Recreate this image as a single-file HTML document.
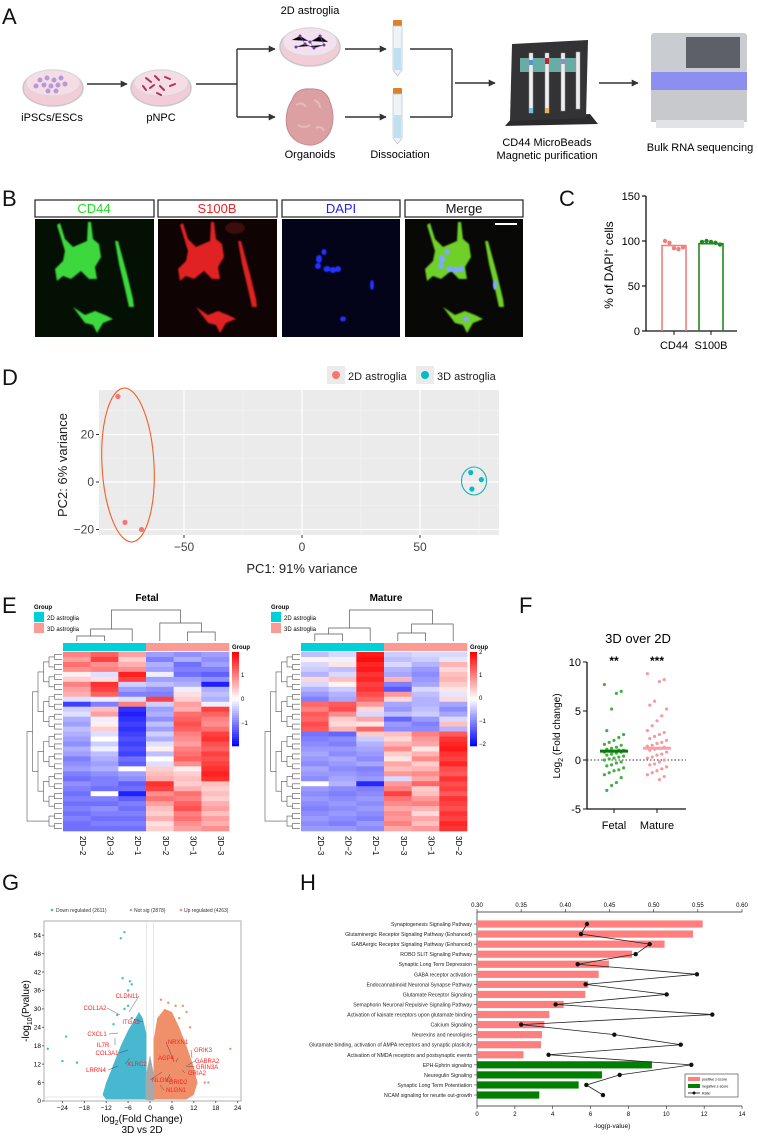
<!DOCTYPE html>
<html><head><meta charset="utf-8">
<style>
html,body{margin:0;padding:0;background:#fff;}
svg{display:block;font-family:"Liberation Sans",Arial,sans-serif;}
.pl{font-size:22px;fill:#111;}
.n{font-family:"Liberation Sans Narrow","Liberation Sans",sans-serif;}
</style></head>
<body>
<svg id="fig" width="758" height="1137" viewBox="0 0 758 1137" xmlns="http://www.w3.org/2000/svg">
<defs>
<marker id="arr" viewBox="0 0 10 10" refX="9" refY="5" markerWidth="5" markerHeight="5" orient="auto"><path d="M0,0 L10,5 L0,10 z" fill="#333"/></marker>
<filter id="bl" x="-20%" y="-20%" width="140%" height="140%"><feGaussianBlur stdDeviation="0.9"/></filter>
<filter id="bl2"><feGaussianBlur stdDeviation="0.5"/></filter>
<g id="cells">
<path d="M25,4 L30,20 L38,28 L52,22 L53,3 L56,3 L58,20 L64,25 L66,38 L60,48 L62,60 L54,60 L46,52 L36,60 L28,57 L22,62 L20,50 L28,42 L30,32 L22,6 z"/>
<path d="M80,22 L83,22 L92,55 L98,80 L99,88 L94,88 L90,70 L84,45 z"/>
<path d="M38,88 L50,96 L60,92 L70,96 L78,100 L68,104 L62,114 L58,106 L50,104 z"/>
</g>
<g id="nuclei">
<ellipse cx="37" cy="40" rx="3" ry="4"/><ellipse cx="42" cy="33" rx="2.5" ry="3"/><ellipse cx="45" cy="50" rx="3.5" ry="3"/><ellipse cx="51" cy="51" rx="3.5" ry="3"/><ellipse cx="56" cy="50" rx="3" ry="3"/><ellipse cx="36" cy="47" rx="3" ry="3"/><ellipse cx="90" cy="66" rx="2" ry="5"/><ellipse cx="61" cy="100" rx="3" ry="2.5"/>
</g>
</defs>

<!-- ============ PANEL A ============ -->
<g>
<text class="pl" x="2" y="24">A</text>
<g>
<ellipse cx="53" cy="88" rx="30" ry="18" fill="#f2ccd6" stroke="#c8c8c8" stroke-width="1.5"/>
<ellipse cx="53" cy="83" rx="27" ry="13" fill="#f6dde5" stroke="#d8d8d8"/>
<g fill="#b59ad8"><circle cx="40" cy="80" r="2.5"/><circle cx="47" cy="78" r="2.5"/><circle cx="54" cy="80" r="2.5"/><circle cx="61" cy="78" r="2.5"/><circle cx="44" cy="85" r="2.5"/><circle cx="51" cy="86" r="2.5"/><circle cx="58" cy="85" r="2.5"/><circle cx="65" cy="84" r="2.5"/><circle cx="48" cy="91" r="2.5"/><circle cx="56" cy="91" r="2.5"/><circle cx="36" cy="86" r="2.5"/></g>
</g>
<text x="52" y="121" font-size="11" text-anchor="middle" class="n">iPSCs/ESCs</text>
<line x1="87" y1="84" x2="127" y2="84" stroke="#333" stroke-width="1.4" marker-end="url(#arr)"/>
<g>
<ellipse cx="161" cy="88" rx="30" ry="18" fill="#f2ccd6" stroke="#c8c8c8" stroke-width="1.5"/>
<ellipse cx="161" cy="83" rx="27" ry="13" fill="#f6dde5" stroke="#d8d8d8"/>
<g stroke="#b0315a" stroke-width="2" stroke-linecap="round"><line x1="146" y1="78" x2="151" y2="82"/><line x1="155" y1="76" x2="159" y2="80"/><line x1="165" y1="77" x2="170" y2="79"/><line x1="150" y1="88" x2="154" y2="85"/><line x1="160" y1="86" x2="164" y2="90"/><line x1="170" y1="86" x2="175" y2="84"/><line x1="157" y1="93" x2="161" y2="95"/><line x1="143" y1="86" x2="146" y2="90"/></g>
</g>
<text x="161" y="121" font-size="11" text-anchor="middle" class="n">pNPC</text>
<g stroke="#333" stroke-width="1.4" fill="none">
<line x1="196" y1="84" x2="237" y2="84"/><line x1="237" y1="49" x2="237" y2="117"/>
<line x1="237" y1="49" x2="275" y2="49" marker-end="url(#arr)"/><line x1="237" y1="117" x2="275" y2="117" marker-end="url(#arr)"/>
</g>
<text x="310" y="14" font-size="11" text-anchor="middle" class="n">2D astroglia</text>
<g>
<ellipse cx="310" cy="47" rx="30" ry="19" fill="#f2ccd6" stroke="#c8c8c8" stroke-width="1.5"/>
<ellipse cx="310" cy="42" rx="27" ry="14" fill="#f3e2ee" stroke="#d8d8d8"/>
<g stroke="#7b5aa8" stroke-width="0.6"><path d="M292,40 L300,36 L310,42 L320,36 L328,42 M296,47 L305,44 L314,48 L324,45 M300,36 L305,44 M310,42 L314,48 M320,36 L324,45"/></g>
<g fill="#6a3fa0"><circle cx="300" cy="36" r="1.5"/><circle cx="310" cy="42" r="1.5"/><circle cx="320" cy="36" r="1.5"/><circle cx="305" cy="44" r="1.5"/><circle cx="314" cy="48" r="1.5"/><circle cx="324" cy="45" r="1.5"/><circle cx="296" cy="47" r="1.5"/></g>
</g>
<g>
<path d="M292,100 Q296,88 310,89 Q326,88 330,102 Q336,118 330,132 Q322,146 308,145 Q292,143 287,128 Q284,112 292,100 z" fill="#dca0a2" stroke="#c58a8c"/>
<path d="M296,105 q6,-4 10,2 M314,100 q6,2 6,8 M298,125 q6,4 12,0 M316,128 q5,-3 8,3" stroke="#e8b9ba" fill="none" stroke-width="2"/>
</g>
<text x="310" y="158" font-size="11" text-anchor="middle" class="n">Organoids</text>
<g stroke="#333" stroke-width="1.4">
<line x1="345" y1="49" x2="386" y2="49" marker-end="url(#arr)"/><line x1="345" y1="117" x2="386" y2="117" marker-end="url(#arr)"/>
</g>
<g><rect x="393" y="20" width="9" height="6" rx="1" fill="#d9822b"/><path d="M393,26 h9 v44 l-4.5,6 l-4.5,-6 z" fill="#eef3f8" stroke="#b9c4cf" stroke-width="0.7"/><rect x="394" y="48" width="7" height="22" fill="#bfe0f1"/></g>
<g><rect x="393" y="88" width="9" height="6" rx="1" fill="#d9822b"/><path d="M393,94 h9 v44 l-4.5,6 l-4.5,-6 z" fill="#eef3f8" stroke="#b9c4cf" stroke-width="0.7"/><rect x="394" y="115" width="7" height="23" fill="#bfe0f1"/></g>
<text x="400" y="158" font-size="11" text-anchor="middle" class="n">Dissociation</text>
<g stroke="#333" stroke-width="1.4" fill="none">
<line x1="410" y1="49" x2="452" y2="49"/><line x1="410" y1="117" x2="452" y2="117"/><line x1="452" y1="49" x2="452" y2="117"/>
<line x1="455" y1="83" x2="495" y2="83" marker-end="url(#arr)"/>
</g>
<g>
<path d="M505,126 L512,118 L590,114 L598,124 Z" fill="#2b2b2e"/>
<path d="M512,44 L588,40 L586,118 L510,121 z" fill="#333336"/>
<rect x="520" y="58" width="60" height="14" fill="#6fb9b4" opacity="0.9"/>
<g fill="#eee" stroke="#999" stroke-width="0.5"><rect x="529" y="53" width="4" height="60"/><rect x="545" y="53" width="4" height="60"/><rect x="561" y="53" width="4" height="58"/><rect x="576" y="52" width="4" height="57"/></g>
<rect x="529" y="60" width="4" height="5" fill="#4b9ad6"/><rect x="545" y="58" width="4" height="6" fill="#c0262d"/><rect x="561" y="59" width="4" height="5" fill="#8c8fbf"/>
<rect x="545" y="108" width="4" height="5" fill="#e6b450"/><rect x="529" y="108" width="4" height="5" fill="#6cc2e8"/>
</g>
<text x="547" y="146" font-size="11" text-anchor="middle" class="n">CD44 MicroBeads</text>
<text x="547" y="159" font-size="11" text-anchor="middle" class="n">Magnetic purification</text>
<line x1="599" y1="83" x2="638" y2="83" stroke="#333" stroke-width="1.4" marker-end="url(#arr)"/>
<g>
<rect x="651" y="33" width="96" height="40" rx="3" fill="#c9ccd1"/>
<rect x="686" y="37" width="54" height="31" fill="#5d6068"/>
<rect x="651" y="72" width="96" height="18" fill="#8d8ff0"/>
<rect x="651" y="90" width="96" height="32" fill="#c7c9cd"/>
<rect x="656" y="120" width="88" height="8" fill="#e2e3e6"/>
</g>
<text x="700" y="151" font-size="11" text-anchor="middle" class="n">Bulk RNA sequencing</text>
</g>

<!-- ============ PANEL B ============ -->
<g>
<text class="pl" x="2" y="206">B</text>
<g font-size="13" text-anchor="middle">
<rect x="35" y="200" width="119" height="17" fill="#fff" stroke="#222" stroke-width="1.2"/><text x="94" y="213" fill="#22dd22">CD44</text>
<rect x="158" y="200" width="119" height="17" fill="#fff" stroke="#222" stroke-width="1.2"/><text x="217" y="213" fill="#ee2222">S100B</text>
<rect x="282" y="200" width="118" height="17" fill="#fff" stroke="#222" stroke-width="1.2"/><text x="341" y="213" fill="#2222ee">DAPI</text>
<rect x="405" y="200" width="118" height="17" fill="#fff" stroke="#222" stroke-width="1.2"/><text x="464" y="213" fill="#111">Merge</text>
</g>
<g>
<rect x="35" y="219" width="119" height="118" fill="#041004"/>
<use href="#cells" transform="translate(35,219)" fill="#3cd83c" filter="url(#bl)"/>
</g>
<g>
<rect x="158" y="219" width="119" height="118" fill="#100303"/>
<ellipse cx="235" cy="228" rx="10" ry="6" fill="#3a0808" filter="url(#bl)"/>
<use href="#cells" transform="translate(158,219)" fill="#e02020" filter="url(#bl)"/>
</g>
<g>
<rect x="282" y="219" width="118" height="118" fill="#03031a"/>
<use href="#nuclei" transform="translate(282,219)" fill="#2030ff" filter="url(#bl2)"/>
</g>
<g>
<rect x="405" y="219" width="118" height="118" fill="#080806"/>
<use href="#cells" transform="translate(405,219)" fill="#6fd02c" filter="url(#bl)"/>
<use href="#nuclei" transform="translate(405,219)" fill="#7fa8ff" filter="url(#bl2)"/>
<line x1="495" y1="224" x2="517" y2="224" stroke="#fff" stroke-width="2"/>
</g>
</g>

<!-- ============ PANEL C ============ -->
<g id="panelC">
<text class="pl" x="559" y="206">C</text>
<text transform="translate(613,265) rotate(-90)" font-size="12" text-anchor="middle">% of DAPI<tspan dy="-4" font-size="8">+</tspan><tspan dy="4"> cells</tspan></text>
</g>

<!-- ============ PANEL D ============ -->
<g id="panelD">
<text class="pl" x="2" y="385">D</text>
<rect x="99" y="390" width="400" height="145" fill="#ebebeb"/>
<text x="302" y="573" font-size="13" text-anchor="middle" fill="#222">PC1: 91% variance</text>
<text transform="translate(67,465) rotate(-90)" font-size="13" text-anchor="middle" fill="#222">PC2: 6% variance</text>
<g>
<rect x="327" y="366" width="18" height="18" fill="#ebebeb"/><circle cx="336" cy="375" r="4" fill="#f8766d"/>
<text x="348" y="380" font-size="11" fill="#222">2D astroglia</text>
<rect x="416" y="366" width="18" height="18" fill="#ebebeb"/><circle cx="425" cy="375" r="4" fill="#00bfc4"/>
<text x="437" y="380" font-size="11" fill="#222">3D astroglia</text>
</g>
</g>

<!-- ============ PANEL E ============ -->
<g id="panelE">
<text class="pl" x="2" y="613">E</text>
<text x="147" y="601" font-size="10" font-weight="bold" text-anchor="middle" class="n">Fetal</text>
<text x="386" y="601" font-size="10" font-weight="bold" text-anchor="middle" class="n">Mature</text>
</g>

<!-- ============ PANEL F ============ -->
<g id="panelF">
<text class="pl" x="519" y="613">F</text>
<text x="638" y="643" font-size="13" text-anchor="middle" class="n">3D over 2D</text>
<text transform="translate(560,736) rotate(-90)" font-size="10" text-anchor="middle">Log<tspan font-size="7" dy="3">2</tspan><tspan dy="-3"> (Fold change)</tspan></text>
</g>

<!-- ============ PANEL G ============ -->
<g id="panelG">
<text class="pl" x="2" y="890">G</text>
<text transform="translate(29,1011) rotate(-90)" font-size="10" text-anchor="middle">-log<tspan font-size="7" dy="3">10</tspan><tspan dy="-3">(Pvalue)</tspan></text>
<text x="142" y="1122" font-size="10" text-anchor="middle">log<tspan font-size="7" dy="3">2</tspan><tspan dy="-3">(Fold Change)</tspan></text>
<text x="142" y="1133" font-size="10" text-anchor="middle">3D vs 2D</text>
<g font-size="5" fill="#333">
<circle cx="52" cy="910" r="1.3" fill="#48b8d0"/><text x="56" y="912">Down regulated (2611)</text>
<circle cx="131" cy="910" r="1.3" fill="#aaa"/><text x="134" y="912">Not sig (2878)</text>
<circle cx="181" cy="910" r="1.3" fill="#f0906a"/><text x="184" y="912">Up regulated (4263)</text>
</g>
</g>

<!-- ============ PANEL H ============ -->
<g id="panelH">
<text class="pl" x="300" y="890">H</text>
<text x="612" y="1128" font-size="6.5" text-anchor="middle">-log(p-value)</text>
</g>
</svg>

<script>
const NS='http://www.w3.org/2000/svg';
const svg=document.getElementById('fig');
function mk(tag,attrs,parent){const e=document.createElementNS(NS,tag);for(const k in attrs)e.setAttribute(k,attrs[k]);(parent||svg).appendChild(e);return e;}
function tx(str,attrs,parent){const e=mk('text',attrs,parent);e.textContent=str;return e;}

/* ---------- Panel C data ---------- */
const cCategories=['CD44','S100B'];
const cMeans=[95,97];
const cPoints=[[100,98,92,91,93],[99,100,99,98,96]];
const cTicks=[0,50,100,150];
const cColors=['#f47c7c','#1e8a1e'];
(function(){
  const g=document.getElementById('panelC');
  const y=v=>331-v*(135/150);
  const bx=[674,711];
  let a=mk('line',{x1:646,y1:y(150),x2:646,y2:331,stroke:'#111','stroke-width':1.3},g);
  
  
  a=mk('line',{x1:646,y1:331,x2:737,y2:331,stroke:'#111','stroke-width':1.3},g);
  
  
  cTicks.forEach(t=>{
    mk('line',{x1:642,y1:y(t),x2:646,y2:y(t),stroke:'#111','stroke-width':1.2},g);
    const l=tx(String(t),{x:640,y:y(t)+4,'font-size':11,'text-anchor':'end'},g);
    
    
  });
  cCategories.forEach((c,i)=>{
    const b=mk('path',{d:`M${bx[i]-12},331 V${y(cMeans[i])} H${bx[i]+12} V331`,fill:'none',stroke:cColors[i],'stroke-width':1.6},g);
    
    
    mk('line',{x1:bx[i],y1:331,x2:bx[i],y2:335,stroke:'#111'},g);
    const l=tx(c,{x:bx[i],y:349,'font-size':11,'text-anchor':'middle',class:'n'},g);
    
    
    cPoints[i].forEach((v,j)=>{
      const p=mk('circle',{cx:bx[i]-9+j*4.5,cy:y(v),r:2.2,fill:cColors[i]},g);
      
      
    });
  });
})();

/* ---------- Panel D data ---------- */
const dPC1_2D=[-78,-75,-68];
const dPC2_2D=[36,-17,-20];
const dPC1_3D=[71.5,76,72];
const dPC2_3D=[4,1,-3];
const dXTicks=[-50,0,50];
const dYTicks=[-20,0,20];
(function(){
  const g=document.getElementById('panelD');
  const x=v=>302+v*2.36, y=v=>482-v*2.375;
  [-75,-25,25,75].forEach(v=>mk('line',{x1:x(v),y1:390,x2:x(v),y2:535,stroke:'#f6f6f6','stroke-width':0.6},g));
  [-10,10,30].forEach(v=>mk('line',{x1:99,y1:y(v),x2:499,y2:y(v),stroke:'#f6f6f6','stroke-width':0.6},g));
  dXTicks.forEach(v=>{
    const l=mk('line',{x1:x(v),y1:390,x2:x(v),y2:535,stroke:'#fff','stroke-width':1.2},g);
    
    
    mk('line',{x1:x(v),y1:535,x2:x(v),y2:538,stroke:'#333'},g);
    const t=tx(v<0?'\u2212'+(-v):String(v),{x:x(v),y:551,'font-size':12,'text-anchor':'middle',fill:'#444'},g);
    
    
  });
  dYTicks.forEach(v=>{
    const l=mk('line',{x1:99,y1:y(v),x2:499,y2:y(v),stroke:'#fff','stroke-width':1.2},g);
    
    
    mk('line',{x1:96,y1:y(v),x2:99,y2:y(v),stroke:'#333'},g);
    const t=tx(v<0?'\u2212'+(-v):String(v),{x:94,y:y(v)+4,'font-size':12,'text-anchor':'end',fill:'#444'},g);
    
    
  });
  let e=mk('ellipse',{cx:128,cy:465,rx:26,ry:77,fill:'none',stroke:'#f0602a','stroke-width':1.1,transform:'rotate(-3,128,465)'},g);
  
  
  e=mk('ellipse',{cx:474,cy:481,rx:12.5,ry:14,fill:'none',stroke:'#1fb0b0','stroke-width':1.1},g);
  
  
  dPC1_2D.forEach((v,i)=>{
    const p=mk('circle',{cx:x(v),cy:y(dPC2_2D[i]),r:2.6,fill:'#f8766d'},g);
    
    
  });
  dPC1_3D.forEach((v,i)=>{
    const p=mk('circle',{cx:x(v),cy:y(dPC2_3D[i]),r:2.6,fill:'#00bfc4'},g);
    
    
  });
})();

/* ---------- Panel E data ---------- */
const fetalSamples=['2D-2','2D-3','2D-1','3D-2','3D-1','3D-3'];
const matureSamples=['2D-3','2D-2','2D-1','3D-3','3D-1','3D-2'];
const fetalValues=[
[0.8,1.0,0.6,-0.6,-0.7,-0.6],[0.6,1.2,0.3,-0.8,-0.5,-0.7],[0.9,0.7,0.5,-0.5,-0.9,-0.6],[0.7,0.8,0.7,-0.6,-0.8,-0.8],
[0.1,-0.2,1.4,-0.1,-0.9,-1.0],[0.3,0.2,1.2,-0.6,-0.6,-0.7],[0.8,1.3,-0.3,-0.4,-0.5,-1.4],[0.6,1.2,-0.6,-0.7,-0.1,-0.5],
[0.5,1.0,-0.8,-0.8,0.2,-0.4],[-0.2,-0.1,-0.2,1.2,0.3,-0.5],[-1.2,-0.8,0.8,-0.3,0.6,-0.1],[-0.3,0.4,-1.3,-0.6,0.5,1.2],
[-0.2,0.6,-1.4,-0.5,0.9,1.0],[-0.5,-0.1,-1.3,-0.7,1.0,0.8],[-0.6,0.1,-1.2,-0.4,1.1,0.7],[-0.4,0.3,-1.3,-0.6,1.0,0.9],
[-0.5,-0.2,-1.2,-0.3,0.8,1.2],[-0.6,0.0,-1.1,-0.5,0.7,1.3],[-0.7,-0.3,-1.2,-0.2,0.6,1.1],[-0.5,-0.1,-1.1,0.1,0.8,1.0],
[-0.6,-0.4,-1.2,-0.4,0.9,1.2],[-0.8,-0.5,-0.9,0.0,1.0,1.1],[-0.7,-0.6,-1.0,-0.2,0.7,1.2],[-0.6,-0.5,0.0,0.3,0.1,1.3],
[-0.8,-0.7,-0.6,0.4,0.3,1.4],[-0.9,-0.8,-0.7,0.5,0.4,1.3],[-0.7,-0.8,-1.0,1.3,0.3,0.4],[-0.8,-0.9,-0.9,1.2,0.5,0.3],
[-0.9,0.0,-1.4,0.7,0.9,0.4],[-0.8,-0.8,-1.0,0.9,0.8,0.3],[-0.9,-0.9,-0.8,0.6,1.0,0.5],[-0.8,-0.7,-0.9,0.4,1.1,0.6],
[-0.9,-0.8,-0.8,0.3,0.8,0.4],[-0.8,-0.9,-0.9,0.5,0.9,0.6],[-0.9,-0.8,-0.8,0.2,0.7,0.5],[-0.9,-0.9,-0.9,0.3,0.6,0.7]];
const matureValues=[
[-0.5,-0.3,1.8,-0.4,-0.3,-0.3],[0.1,-0.1,1.9,-0.5,-0.4,-0.2],[-0.3,0.2,1.7,-0.3,-0.6,0.6],[-0.4,-0.5,1.8,-0.6,-0.8,0.3],
[-0.6,-0.3,1.6,-0.7,-0.9,0.5],[0.3,0.5,1.7,0.6,-0.8,0.6],[-0.3,0.1,1.5,-1.0,-0.7,0.4],[-0.6,-0.4,1.6,-1.3,-0.3,0.2],
[-0.8,-0.6,1.4,0.8,-0.5,-0.2],[-1.0,-0.7,1.2,0.3,-0.6,0.3],[1.2,1.3,0.8,-0.7,-0.6,-0.7],[1.0,1.4,0.3,-0.8,-0.5,-0.9],
[1.3,0.9,-0.3,-0.5,-0.4,-0.7],[1.2,0.4,0.7,-1.2,-0.8,-0.3],[1.4,0.3,0.2,-0.8,-1.0,0.5],[1.3,0.6,1.2,-0.9,-0.9,-0.6],
[-1.1,-1.2,0.4,0.5,1.0,1.3],[-1.0,-0.9,-0.4,0.3,0.8,1.6],[-0.9,-1.0,-0.6,0.6,0.7,1.7],[-0.8,-0.8,-0.7,0.9,0.2,1.8],
[-0.7,-0.9,-0.8,0.4,0.6,1.6],[-0.8,-0.7,-0.9,0.2,0.9,1.5],[-0.9,-0.8,-0.7,0.7,0.4,1.7],[-0.7,-0.9,-1.0,0.5,0.6,1.4],
[-0.8,-0.8,-0.9,0.8,0.9,1.3],[-0.9,-0.7,-0.8,-0.3,0.7,1.6],[0.0,-0.6,-1.7,0.8,1.2,1.4],[-0.8,-0.9,-1.0,1.0,0.4,1.5],
[-0.9,-1.0,-0.9,1.5,0.5,1.3],[-0.8,-0.9,-0.8,1.1,0.8,1.6],[-0.9,-0.8,-0.9,0.9,1.0,1.5],[-1.0,-0.9,-0.8,0.7,0.6,1.4],
[-0.9,-0.8,-0.9,0.9,0.3,1.6],[-0.8,-0.9,-1.0,0.8,0.7,1.5],[-0.9,-1.0,-0.8,1.0,0.5,1.7],[-0.8,-0.8,-0.9,0.7,0.8,1.6]];
const fetalScaleTicks=[1,0,-1];
const matureScaleTicks=[2,1,0,-1,-2];
function heatColor(v,lim){
  let t=Math.max(-1,Math.min(1,v/lim));
  if(t>=0){const c=Math.round(255*(1-t));return `rgb(255,${c},${c})`;}
  const c=Math.round(255*(1+t));return `rgb(${c},${c},255)`;
}
function heatmap(name,x0,x1,values,samples,lim,ticks,cbx,tickPx,legendX,colTree){
  const g=document.getElementById('panelE');
  const y0=652,y1=831,nR=values.length,nC=samples.length;
  const cw=(x1-x0)/nC, rh=(y1-y0)/nR;
  let t=tx('Group',{x:legendX,y:609,'font-size':6,'font-weight':'bold'},g);
  
  
  mk('rect',{x:legendX,y:612,width:10,height:10,fill:'#00d0d8'},g);
  mk('rect',{x:legendX,y:623,width:10,height:10,fill:'#fb9b94'},g);
  t=tx('2D astroglia',{x:legendX+13,y:620,'font-size':6},g);
  
  
  t=tx('3D astroglia',{x:legendX+13,y:631,'font-size':6},g);
  
  
  samples.forEach((s,j)=>{
    const r=mk('rect',{x:x0+j*cw,y:643,width:cw+0.3,height:8,fill:s.startsWith('2D')?'#00d0d8':'#fb9b94'},g);
    
    
  });
  t=tx('Group',{x:x1+3,y:649,'font-size':6,'font-weight':'bold'},g);
  
  
  values.forEach((row,i)=>row.forEach((v,j)=>{
    const c=mk('rect',{x:x0+j*cw,y:y0+i*rh,width:cw+0.3,height:rh+0.3,fill:heatColor(v,lim)},g);
    
    
  }));
  samples.forEach((s,j)=>{
    const l=tx(s.replace('-','\u2212'),{transform:`translate(${x0+(j+0.5)*cw+3},836) rotate(90)`,'font-size':8},g);
    
    
  });
  const nSt=40;
  for(let k=0;k<nSt;k++){
    const v=lim-(2*lim)*(k+0.5)/nSt;
    mk('rect',{x:cbx,y:652+k*94/nSt,width:7,height:94/nSt+0.3,fill:heatColor(v,lim)},g);
  }
  ticks.forEach((v,k)=>{
    const l=tx(String(v).replace('-','\u2212'),{x:cbx+9,y:tickPx(v)+2,'font-size':6},g);
    
    
  });
  const cx=j=>x0+(j+0.5)*cw;
  const dp=mk('path',{d:colTree(cx),fill:'none',stroke:'#555','stroke-width':0.7},g);
  
  
  let nodes=values.map((_,i)=>({y:y0+(i+0.5)*rh,x:x0-1}));
  let d='',level=0;
  while(nodes.length>1){
    const nx=[];level++;
    for(let k=0;k<nodes.length;k+=2){
      if(k+1>=nodes.length){nx.push(nodes[k]);continue;}
      const a=nodes[k],b=nodes[k+1];
      const xx=x0-3-level*5.5;
      d+=`M${a.x},${a.y}H${xx}V${b.y}H${b.x}`;
      nx.push({x:xx,y:(a.y+b.y)/2});
    }
    nodes=nx;
  }
  const rd=mk('path',{d:d,fill:'none',stroke:'#555','stroke-width':0.6},g);
  
  
}
heatmap('fetal',63,229,fetalValues,fetalSamples,1.6,fetalScaleTicks,232,v=>699-v*24,34,
  cx=>`M${cx(0)},641V636H${cx(1)}V641 M${(cx(0)+cx(1))/2},636V629H${cx(2)}V641 M${cx(4)},641V632H${cx(5)}V641 M${(cx(4)+cx(5))/2},632V623H${cx(3)}V641 M${(cx(0)+cx(1)+2*cx(2))/4},629V610H${(cx(3)+(cx(4)+cx(5))/2)/2}V623`);
heatmap('mature',301,467,matureValues,matureSamples,2,matureScaleTicks,470,v=>698-v*23,271,
  cx=>`M${cx(0)},641V634H${cx(1)}V641 M${(cx(0)+cx(1))/2},634V628H${cx(2)}V641 M${cx(3)},641V633H${cx(4)}V641 M${(cx(3)+cx(4))/2},633V624H${cx(5)}V641 M${(cx(0)+cx(1)+2*cx(2))/4},628V610H${((cx(3)+cx(4))/2+cx(5))/2}V624`);

/* ---------- Panel F data ---------- */
const fGroups=['Fetal','Mature'];
const fFetal=[7.7,7.0,6.8,5.2,3.0,2.6,2.3,2.0,1.8,1.6,1.5,1.3,1.2,1.1,1.0,1.0,0.9,0.9,0.8,0.8,0.7,0.6,0.5,0.4,0.3,0.2,0.1,0.0,-0.2,-0.3,-0.5,-0.6,-0.8,-1.0,-1.1,-1.3,-1.5,-1.8,-2.3,-2.6,-3.1];
const fMature=[8.8,8.2,8.0,6.0,5.6,5.2,4.5,4.0,3.5,3.0,2.8,2.6,2.4,2.2,2.0,1.8,1.7,1.5,1.4,1.3,1.2,1.1,1.0,0.8,0.6,0.5,0.3,0.2,0.0,-0.2,-0.4,-0.5,-0.7,-0.9,-1.1,-1.3,-1.5,-1.7,-2.0];
const fMedians=[0.9,1.2];
const fStars=['**','***'];
const fTicks=[-5,0,5,10];
(function(){
  const g=document.getElementById('panelF');
  const y=v=>760-v*9.8, gx=[614,657], cols=['#44b044','#f59aa0'], mcols=['#0b7a0b','#f7a0a8'];
  let a=mk('line',{x1:587,y1:y(10),x2:587,y2:y(-5),stroke:'#111','stroke-width':1.3},g);
  
  
  a=mk('line',{x1:587,y1:y(-5),x2:686,y2:y(-5),stroke:'#111','stroke-width':1.3},g);
  
  
  a=mk('line',{x1:587,y1:y(0),x2:686,y2:y(0),stroke:'#333','stroke-width':1,'stroke-dasharray':'1.5,2'},g);
  
  
  fTicks.forEach(t=>{
    mk('line',{x1:583,y1:y(t),x2:587,y2:y(t),stroke:'#111'},g);
    const l=tx(String(t),{x:581,y:y(t)+4,'font-size':11,'text-anchor':'end',class:'n'},g);
    
    
  });
  [fFetal,fMature].forEach((arr,i)=>{
    mk('line',{x1:gx[i],y1:y(-5),x2:gx[i],y2:y(-5)+4,stroke:'#111'},g);
    let l=tx(fGroups[i],{x:gx[i],y:829,'font-size':11,'text-anchor':'middle',class:'n'},g);
    
    
    l=tx(fStars[i],{x:gx[i],y:665,'font-size':12,'text-anchor':'middle','font-weight':'bold'},g);
    
    
    arr.forEach((v,j)=>{
      const off=((j*7)%9-4)*2.4;
      const p=mk('circle',{cx:gx[i]+off,cy:y(v),r:1.6,fill:cols[i]},g);
      
      
    });
    const m=mk('line',{x1:gx[i]-14,y1:y(fMedians[i]),x2:gx[i]+14,y2:y(fMedians[i]),stroke:mcols[i],'stroke-width':3},g);
    
    
  });
})();

/* ---------- Panel G data ---------- */
const gDownFC=[-8,-7,-7.5,-5,-5.5,-6,-28,-23,-24,-20,-7,-6,-5,-9,-10];
const gDownP=[53,55,40,38,39,36,17,21,13,12.5,30,31,27,28,25];
const gUpFC=[22,15,16,3,7,9,10,11,5,8];
const gUpP=[17,6,6,33,31,31,29,24,32,27];
const gDownCloud=[[-1,1],[-1,22],[-2,27],[-3,29],[-4,27],[-6,23],[-8,18],[-10,12],[-12,6],[-13,2],[-12,0.5],[-1,0.5]];
const gUpCloud=[[1,1],[1,20],[2,27],[4,30],[6,29],[8,24],[10,18],[12,11],[13,6],[12,2],[10,0.5],[1,0.5]];
const gNsCloud=[[-1.2,0.3],[-1.2,8],[0,15],[1.2,8],[1.2,0.3]];
const gXTicks=[-24,-18,-12,-6,0,6,12,18,24];
const gYTicks=[0,6,12,18,24,30,36,42,48,54];
(function(){
  const g=document.getElementById('panelG');
  const x=v=>150+v*3.65, y=v=>1101-v*3.07;
  const box=mk('rect',{x:44,y:921,width:197,height:180,fill:'none',stroke:'#999','stroke-width':0.8},g);
  
  
  [-1,1].forEach(v=>mk('line',{x1:x(v),y1:921,x2:x(v),y2:1101,stroke:'#ddd','stroke-width':0.8},g));
  mk('line',{x1:44,y1:y(1.3),x2:241,y2:y(1.3),stroke:'#ddd','stroke-width':0.8},g);
  const poly=(pts,fill,n)=>{const p=mk('polygon',{points:pts.map(q=>x(q[0])+','+y(q[1])).join(' '),fill:fill},g);};
  poly(gDownCloud,'#48b8d0','g-down-cloud');
  poly(gUpCloud,'#f0906a','g-up-cloud');
  poly(gNsCloud,'#a8a8a8','g-notsig-cloud');
  gDownFC.forEach((v,i)=>{const p=mk('circle',{cx:x(v),cy:y(gDownP[i]),r:1.2,fill:'#48b8d0'},g);});
  gUpFC.forEach((v,i)=>{const p=mk('circle',{cx:x(v),cy:y(gUpP[i]),r:1.2,fill:'#f0906a'},g);});
  gXTicks.forEach(t=>{mk('line',{x1:x(t),y1:1101,x2:x(t),y2:1103,stroke:'#666'},g);
    const l=tx(t<0?'\u2212'+(-t):String(t),{x:x(t),y:1110,'font-size':6.5,'text-anchor':'middle'},g);
    
    });
  gYTicks.forEach(t=>{mk('line',{x1:42,y1:y(t),x2:44,y2:y(t),stroke:'#666'},g);
    const l=tx(String(t),{x:41,y:y(t)+2.2,'font-size':6.5,'text-anchor':'end'},g);
    
    });
  const genes=[['CLDN11',127,998,129,1012],['COL1A2',95,1010,120,1015],['ITGA3',131,1024,134,1019],['CXCL1',97,1036,118,1033],['IL7R',103,1047,115,1038],['COL3A1',107,1055,128,1050],['LRRN4',96,1072,118,1066],['KLRC2',137,1066,130,1058],['NRXN1',178,1044,174,1062],['GRIK3',203,1052,192,1058],['AGP4',166,1060,176,1062],['GABRA2',207,1063,188,1065],['GRIN3A',207,1069,186,1066],['GRIA2',197,1075,182,1070],['NLGN3',162,1082,162,1072],['GRID2',178,1084,170,1074],['NLGN1',176,1092,160,1085]];
  genes.forEach(gn=>{
    mk('line',{x1:gn[1]+(gn[3]>gn[1]?12:-12),y1:gn[2]-2,x2:gn[3],y2:gn[4],stroke:'#333','stroke-width':0.4},g);
    const l=tx(gn[0],{x:gn[1],y:gn[2],'font-size':6,fill:'#ff2020','text-anchor':'middle'},g);
    
    
  });
})();

/* ---------- Panel H data ---------- */
const hPathways=['Synaptogenesis Signaling Pathway','Glutaminergic Receptor Signaling Pathway (Enhanced)','GABAergic Receptor Signaling Pathway (Enhanced)','ROBO SLIT Signaling Pathway','Synaptic Long Term Depression','GABA receptor activation','Endocannabinoid Neuronal Synapse Pathway','Glutamate Receptor Signaling','Semaphorin Neuronal Repulsive Signaling Pathway','Activation of kainate receptors upon glutamate binding','Calcium Signaling','Neurexins and neuroligins','Glutamate binding, activation of AMPA receptors and synaptic plasticity','Activation of NMDA receptors and postsynaptic events','EPH-Ephrin signaling','Neuregulin Signaling','Synaptic Long Term Potentiation','NCAM signaling for neurite out-growth'];
const hLogP=[11.92,11.41,9.91,8.19,6.97,6.43,5.88,5.72,4.58,3.82,3.56,3.43,3.38,2.46,9.24,6.60,5.37,3.29];
const hZSign=['pos','pos','pos','pos','pos','pos','pos','pos','pos','pos','pos','pos','pos','pos','neg','neg','neg','neg'];
const hRatio=[0.4245,0.4177,0.4955,0.4796,0.414,0.549,0.423,0.5147,0.389,0.5664,0.350,0.4555,0.5306,0.381,0.5426,0.4615,0.4238,0.4426];
const hBottomTicks=[0,2,4,6,8,10,12,14];
const hTopTicks=[0.30,0.35,0.40,0.45,0.50,0.55,0.60];
(function(){
  const g=document.getElementById('panelH');
  const x=v=>477+v*18.93, xr=r=>477+(r-0.3)/0.3*265, ry=i=>924+i*10.06;
  let a=mk('line',{x1:477,y1:912,x2:742,y2:912,stroke:'#222','stroke-width':0.7},g);
  
  
  a=mk('line',{x1:477,y1:1106,x2:742,y2:1106,stroke:'#222','stroke-width':0.7},g);
  
  
  a=mk('line',{x1:477,y1:912,x2:477,y2:1106,stroke:'#222','stroke-width':0.7},g);
  
  
  hBottomTicks.forEach(t=>{mk('line',{x1:x(t),y1:1106,x2:x(t),y2:1109,stroke:'#222','stroke-width':0.6},g);
    const l=tx(String(t),{x:x(t),y:1116,'font-size':6,'text-anchor':'middle'},g);
    
    });
  hTopTicks.forEach(t=>{mk('line',{x1:xr(t),y1:909,x2:xr(t),y2:912,stroke:'#222','stroke-width':0.6},g);
    const l=tx(t.toFixed(2),{x:xr(t),y:907,'font-size':6,'text-anchor':'middle'},g);
    
    });
  hPathways.forEach((p,i)=>{
    const b=mk('rect',{x:477,y:ry(i)-3.6,width:x(hLogP[i])-477,height:7.2,fill:hZSign[i]==='pos'?'#ff7f7f':'#007f00'},g);
    
    
    mk('line',{x1:474,y1:ry(i),x2:477,y2:ry(i),stroke:'#222','stroke-width':0.5},g);
    const l=tx(p,{x:472,y:ry(i)+2,'font-size':5.2,'text-anchor':'end',fill:'#222'},g);
    
    
  });
  const line=mk('polyline',{points:hRatio.map((r,i)=>xr(r)+','+ry(i)).join(' '),fill:'none',stroke:'#222','stroke-width':0.8},g);
  
  
  hRatio.forEach((r,i)=>{const c=mk('circle',{cx:xr(r),cy:ry(i),r:2.2,fill:'#111'},g);
    
    });
  const lg=mk('g',{},g);
  
  
  mk('rect',{x:685,y:1074,width:53,height:23,fill:'#fff',stroke:'#333','stroke-width':0.6},lg);
  mk('rect',{x:688,y:1077,width:12,height:4,fill:'#ff7f7f'},lg);
  mk('rect',{x:688,y:1084,width:12,height:4,fill:'#007f00'},lg);
  mk('line',{x1:688,y1:1093,x2:700,y2:1093,stroke:'#111','stroke-width':0.8},lg);
  mk('circle',{cx:694,cy:1093,r:1.5,fill:'#111'},lg);
  let l=tx('positive z-score',{x:702,y:1080.5,'font-size':3.6},lg);
  
  
  l=tx('negative z-score',{x:702,y:1087.5,'font-size':3.6},lg);
  
  
  l=tx('Ratio',{x:702,y:1094.5,'font-size':3.6},lg);
  
  
})();
</script>
</body></html>
